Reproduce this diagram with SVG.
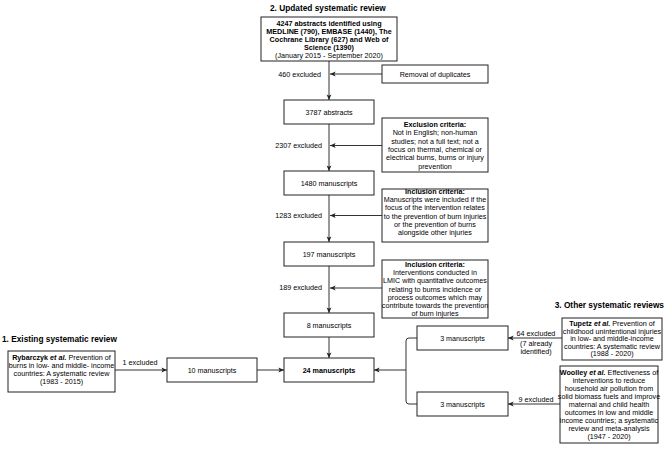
<svg xmlns="http://www.w3.org/2000/svg" width="666" height="449" viewBox="0 0 666 449">
<style>
text{font-family:"Liberation Sans",Arial,Helvetica,sans-serif;font-size:7.2px;fill:#000;text-anchor:middle}
.b{font-weight:bold}
.i{font-style:italic}
.t{font-weight:bold;font-size:8.3px;text-anchor:start}
.e{text-anchor:end}
rect{fill:#fff;stroke:#222;stroke-width:1}
.c path,.c line{fill:none;stroke:#333;stroke-width:1}
</style>
<defs>
<marker id="a" viewBox="0 0 8 8" refX="7.5" refY="4" markerWidth="6" markerHeight="6" orient="auto" markerUnits="userSpaceOnUse">
<path d="M0,0.8 L7.5,4 L0,7.2 L1.8,4 z" fill="#222" stroke="none"/>
</marker>
</defs>
<rect x="0" y="0" width="666" height="449" style="stroke:none"/>
<text class="t" x="270" y="11">2. Updated systematic review</text>
<text class="t" x="2" y="342">1. Existing systematic review</text>
<text class="t" x="664" y="308" style="text-anchor:end">3. Other systematic reviews</text>

<g class="c" id="connectors">
<line x1="329" y1="61" x2="329" y2="100" marker-end="url(#a)"/>
<line x1="329" y1="124" x2="329" y2="171" marker-end="url(#a)"/>
<line x1="329" y1="195" x2="329" y2="242" marker-end="url(#a)"/>
<line x1="329" y1="266" x2="329" y2="313" marker-end="url(#a)"/>
<line x1="329" y1="337" x2="329" y2="358" marker-end="url(#a)"/>
<line x1="382" y1="74" x2="330" y2="74" marker-end="url(#a)"/>
<line x1="382" y1="145.5" x2="330" y2="145.5" marker-end="url(#a)"/>
<line x1="382" y1="215.5" x2="330" y2="215.5" marker-end="url(#a)"/>
<line x1="382" y1="288" x2="330" y2="288" marker-end="url(#a)"/>
<line x1="115" y1="370" x2="167" y2="370" marker-end="url(#a)"/>
<line x1="257" y1="370" x2="284" y2="370" marker-end="url(#a)"/>
<path d="M417,338 H409 Q406,338 406,341 V401 Q406,404 409,404 H417"/>
<line x1="406" y1="370" x2="374" y2="370" marker-end="url(#a)"/>
<line x1="562" y1="338" x2="508" y2="338" marker-end="url(#a)"/>
<line x1="560" y1="404" x2="508" y2="404" marker-end="url(#a)"/>
</g>

<g id="labels">
<text class="e" x="321" y="76.6">460 excluded</text>
<text class="e" x="322" y="148.3">2307 excluded</text>
<text class="e" x="322" y="217.9">1283 excluded</text>
<text class="e" x="322" y="289.7">189 excluded</text>
<text x="140" y="364.6">1 excluded</text>
<text x="536" y="335.6">64 excluded</text>
<text x="536" y="346">(7 already</text>
<text x="536" y="354.2">identified)</text>
<text x="536" y="401.6">9 excluded</text>
</g>

<g id="n-search">
<rect x="261" y="17" width="136" height="44"/>
<text class="b" x="329" y="25.9">4247 abstracts identified using</text>
<text class="b" x="329" y="33.9">MEDLINE (790), EMBASE (1440), The</text>
<text class="b" x="329" y="41.9">Cochrane Library (627) and Web of</text>
<text class="b" x="329" y="49.9">Science (1390)</text>
<text x="329" y="57.9">(January 2015 - September 2020)</text>
</g>
<g id="n-dup">
<rect x="382" y="65" width="106" height="18"/>
<text x="435" y="76.6">Removal of duplicates</text>
</g>
<g id="n-3787">
<rect x="284" y="100" width="90" height="24"/>
<text x="329" y="114.6">3787 abstracts</text>
</g>
<g id="n-excl">
<rect x="382" y="118" width="106" height="54"/>
<text class="b" x="435" y="127.1">Exclusion criteria:</text>
<text x="435" y="135.4">Not in English; non-human</text>
<text x="435" y="143.7">studies; not a full text; not a</text>
<text x="435" y="152">focus on thermal, chemical or</text>
<text x="435" y="160.3">electrical burns, burns or injury</text>
<text x="435" y="168.6">prevention</text>
</g>
<g id="n-1480">
<rect x="284" y="171" width="90" height="24"/>
<text x="329" y="185.6">1480 manuscripts</text>
</g>
<g id="n-incl1">
<rect x="382" y="189" width="106" height="53"/>
<text class="b" x="435" y="193.6">Inclusion criteria:</text>
<text x="435" y="201.9">Manuscripts were included if the</text>
<text x="435" y="210.2">focus of the intervention relates</text>
<text x="435" y="218.5">to the prevention of burn injuries</text>
<text x="435" y="226.8">or the prevention of burns</text>
<text x="435" y="235.1">alongside other injuries</text>
</g>
<g id="n-197">
<rect x="284" y="242" width="90" height="24"/>
<text x="329" y="256.6">197 manuscripts</text>
</g>
<g id="n-incl2">
<rect x="382" y="260" width="106" height="58"/>
<text class="b" x="435" y="266.6">Inclusion criteria:</text>
<text x="435" y="274.9">Interventions conducted in</text>
<text x="435" y="283.2">LMIC with quantitative outcomes</text>
<text x="435" y="291.5">relating to burns incidence or</text>
<text x="435" y="299.8">process outcomes which may</text>
<text x="435" y="308.1">contribute towards the prevention</text>
<text x="435" y="316.4">of burn injuries</text>
</g>
<g id="n-8">
<rect x="284" y="313" width="90" height="24"/>
<text x="329" y="327.6">8 manuscripts</text>
</g>
<g id="n-24">
<rect x="284" y="358" width="90" height="24"/>
<text class="b" x="329" y="372.6">24 manuscripts</text>
</g>
<g id="n-10">
<rect x="167" y="358" width="90" height="24"/>
<text x="212" y="372.6">10 manuscripts</text>
</g>
<g id="n-ryb">
<rect x="8" y="351" width="107" height="41"/>
<text x="61.5" y="359.6"><tspan class="b">Rybarczyk <tspan class="i">et al.</tspan></tspan> Prevention of</text>
<text x="61.5" y="367.6">burns in low- and middle- income</text>
<text x="61.5" y="375.6">countries: A systematic review</text>
<text x="61.5" y="383.6">(1983 - 2015)</text>
</g>
<g id="n-3a">
<rect x="417" y="326" width="91" height="24"/>
<text x="462.5" y="340.6">3 manuscripts</text>
</g>
<g id="n-3b">
<rect x="417" y="392" width="91" height="24"/>
<text x="462.5" y="406.6">3 manuscripts</text>
</g>
<g id="n-tupetz">
<rect x="562" y="318" width="100" height="42"/>
<text x="612" y="326.1"><tspan class="b">Tupetz <tspan class="i">et al.</tspan></tspan> Prevention of</text>
<text x="612" y="333.6">childhood unintentional injuries</text>
<text x="612" y="341.1">in low- and middle-income</text>
<text x="612" y="348.6">countries: A systematic review</text>
<text x="612" y="356.1">(1988 - 2020)</text>
</g>
<g id="n-woolley">
<rect x="560" y="366" width="98" height="77"/>
<text x="609" y="375.1"><tspan class="b">Woolley <tspan class="i">et al.</tspan></tspan> Effectiveness of</text>
<text x="609" y="383.1">interventions to reduce</text>
<text x="609" y="391.1">household air pollution from</text>
<text x="609" y="399.1">solid biomass fuels and improve</text>
<text x="609" y="407.1">maternal and child health</text>
<text x="609" y="415.1">outcomes in low and middle</text>
<text x="609" y="423.1">income countries; a systematic</text>
<text x="609" y="431.1">review and meta-analysis</text>
<text x="609" y="439.1">(1947 - 2020)</text>
</g>
</svg>
